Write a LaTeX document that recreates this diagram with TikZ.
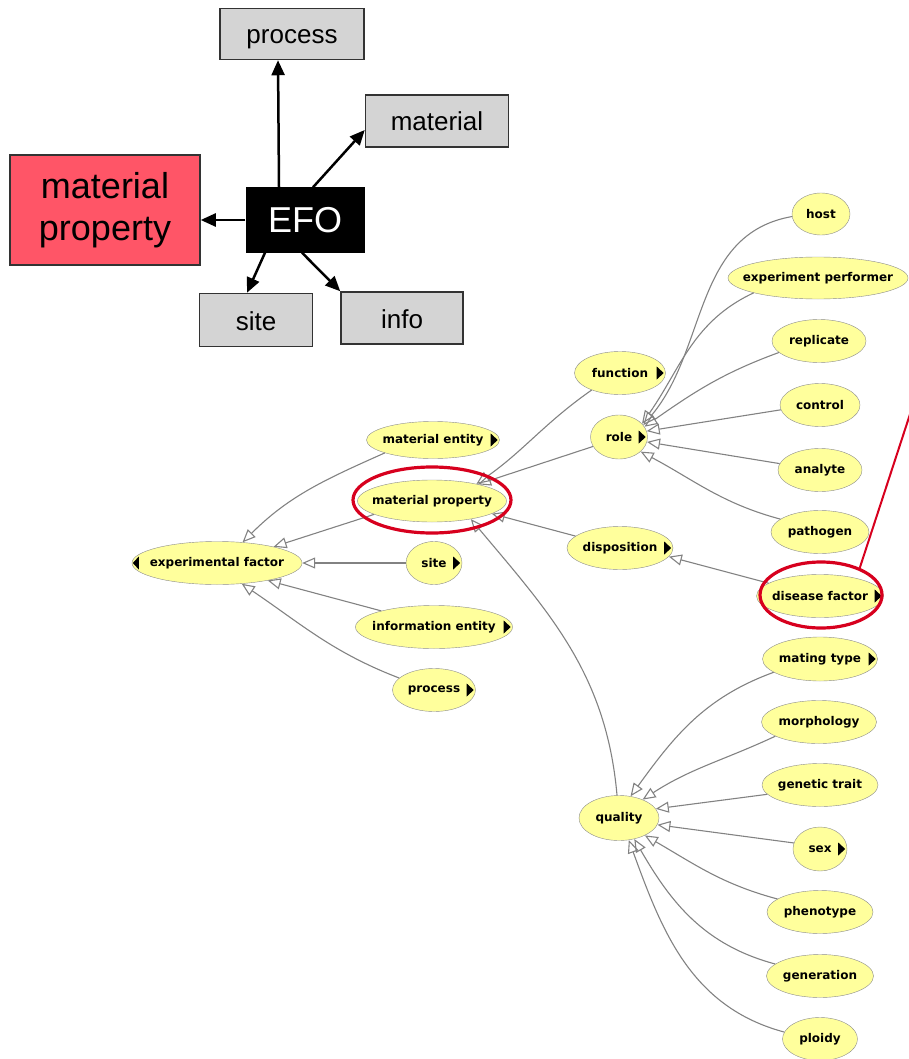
\documentclass[tikz,border=0pt]{standalone}
\usepackage{fontspec}
\setmainfont{Liberation Sans}
\newfontfamily\ontofont{DejaVu Sans}
\usepackage{tikz}
\usetikzlibrary{arrows.meta,shapes.geometric}
\definecolor{boxgray}{HTML}{D4D4D4}
\definecolor{propred}{HTML}{FF5567}
\definecolor{termfill}{HTML}{FFFF9C}
\definecolor{termline}{HTML}{8C8C8C}
\definecolor{isaline}{HTML}{828282}
\definecolor{ringred}{HTML}{D7001E}

\begin{document}
\begin{tikzpicture}[x=1pt, y=-1pt,
  box/.style={draw=black!80, line width=1.5pt, fill=boxgray, inner sep=0pt,
    text height=21pt, text depth=1pt, font=\fontsize{26}{30}\selectfont},
  push/.style={-{Triangle[length=15pt,width=13pt]}, line width=2.5pt},
  term/.style={ellipse, draw=termline, fill=termfill, inner xsep=-30pt, inner ysep=0pt,
    minimum height=43pt, font=\ontofont\bfseries\fontsize{12}{14}\selectfont},
  isa/.style={draw=isaline, line width=1.1pt,
    -{Triangle[open,length=13pt,width=11pt]}},
  ring/.style={ellipse, draw=ringred, line width=3.2pt, inner sep=0pt}]
  \useasboundingbox (0,0) rectangle (908,1059);

  % EFO overview
  \node[box, minimum width=144pt, minimum height=51pt] (boxproc) at (292,34) {process};
  \node[box, minimum width=143pt, minimum height=52pt] (boxmat) at (437,121) {material};
  \node[box, fill=propred, minimum width=190pt, minimum height=110pt, align=center,
    text height=, text depth=, font=\fontsize{36}{42}\selectfont] (boxprop) at (105,210)
    {material\\property};
  \node[fill=black, text=white, inner sep=0pt, minimum width=119pt, minimum height=65pt,
    font=\fontsize{36}{40}\selectfont] (efo) at (305,220) {EFO};
  \node[box, minimum width=113pt, minimum height=53pt] (boxsite) at (256,320) {site};
  \node[box, minimum width=122pt, minimum height=52pt] (boxinfo) at (402,318) {info};

  \draw[push] ([xshift=-26pt]efo.north) -- ([xshift=-14pt]boxproc.south);
  \draw[push] ([xshift=8pt]efo.north) -- ([yshift=-9pt]boxmat.west);
  \draw[push] (efo.west) -- (efo.west -| boxprop.east);
  \draw[push] ([xshift=-40pt]efo.south) -- ([xshift=-9pt]boxsite.north);
  \draw[push] ([xshift=-3pt]efo.south) -- (boxinfo.north west);

  % Ontology tree, first level
  \node[term, minimum width=170pt] (expf) at (217,563) {experimental factor};
  \node[term, minimum width=133pt, minimum height=37pt] (ment) at (433,440) {material entity};
  \node[term, minimum width=149pt, minimum height=42pt] (mprop) at (432,501) {material property};
  \node[term, minimum width=56pt] (site) at (434,563) {site};
  \node[term, minimum width=157pt] (ient) at (434,627) {information entity};
  \node[term, minimum width=83pt] (proc) at (434,690) {process};

  % under material property
  \node[term, minimum width=91pt] (func) at (620,373) {function};
  \node[term, minimum width=57pt, minimum height=44pt] (role) at (619,437) {role};
  \node[term, minimum width=106pt] (disp) at (620,548) {disposition};
  \node[term, minimum width=80pt, minimum height=45pt] (qual) at (619,818) {quality};

  % under role
  \node[term, minimum width=58pt, minimum height=42pt] (host) at (821,214) {host};
  \node[term, minimum width=180pt, minimum height=42pt] (expperf) at (818,278) {experiment performer};
  \node[term, minimum width=94pt] (repl) at (819,341) {replicate};
  \node[term, minimum width=80pt] (ctrl) at (820,405) {control};
  \node[term, minimum width=84pt] (anal) at (820,470) {analyte};
  \node[term, minimum width=98pt] (patho) at (820,532) {pathogen};

  % under disposition
  \node[term, minimum width=127pt] (disfac) at (820,596) {disease factor};

  % under quality
  \node[term, minimum width=115pt, minimum height=44pt] (mating) at (820,659) {mating type};
  \node[term, minimum width=115pt] (morph) at (819,722) {morphology};
  \node[term, minimum width=116pt] (gene) at (820,785) {genetic trait};
  \node[term, minimum width=54pt, minimum height=44pt] (sex) at (820,849) {sex};
  \node[term, minimum width=106pt] (pheno) at (820,912) {phenotype};
  \node[term, minimum width=107pt] (gener) at (820,976) {generation};
  \node[term, minimum width=75pt] (ploidy) at (820,1039) {ploidy};

  % expand markers
  \foreach \t in {ment,site,ient,proc,func,role,disp,disfac,mating,sex}
    \fill ([xshift=-2pt]\t.east) -- ++(-7pt,6.5pt) -- ++(0,-13pt) -- cycle;
  \fill ([xshift=1pt]expf.west) -- ++(6pt,6.5pt) -- ++(0,-13pt) -- cycle;

  % is-a links
  \draw[isa] (ment.195) to[out=204,in=45] (expf.39);
  \draw[isa] (mprop.193) -- (expf.16);
  \draw[isa] (site) -- (expf);
  \draw[isa] (ient.163) -- (expf.341);
  \draw[isa] (proc.161) to[out=159,in=-34] (expf.320);

  \draw[isa] (func.211) to[out=215,in=35] (mprop.21);
  \draw[isa] (role.200) -- (mprop.20);
  \draw[isa] (disp.165) -- (mprop.348);
  \draw[isa] (qual.95) to[out=95,in=-50] (mprop.335);

  \draw[isa] (host.185) to[out=190,in=50] (role.26);
  \draw[isa] (expperf.193) to[out=205,in=55] (role.30);
  \draw[isa] (repl.196) to[out=200,in=35] (role.22);
  \draw[isa] (ctrl.187) -- (role.12);
  \draw[isa] (anal.171) -- (role.350);
  \draw[isa] (patho.162) to[out=165,in=-28] (role.326);

  \draw[isa] (disfac.166) -- (disp.350);

  \draw[isa] (mating.196) to[out=200,in=54] (qual.62);
  \draw[isa] (morph.198) to[out=205,in=33] (qual.38);
  \draw[isa] (gene.190) -- (qual.14);
  \draw[isa] (sex.167) -- (qual.350);
  \draw[isa] (pheno.163) to[out=165,in=-30] (qual.326);
  \draw[isa] (gener.165) to[out=165,in=-60] (qual.306);
  \draw[isa] (ploidy.169) to[out=165,in=-70] (qual.294);

  % Highlights
  \node[ring, minimum width=158pt, minimum height=66pt] (ring1) at (432,500) {};
  \node[ring, minimum width=122pt, minimum height=66pt] (ring2) at (821,595) {};
  \coordinate (offpage) at (913,405);
  \draw[ringred, line width=2pt] (ring2.35) -- (offpage);
\end{tikzpicture}
\end{document}
